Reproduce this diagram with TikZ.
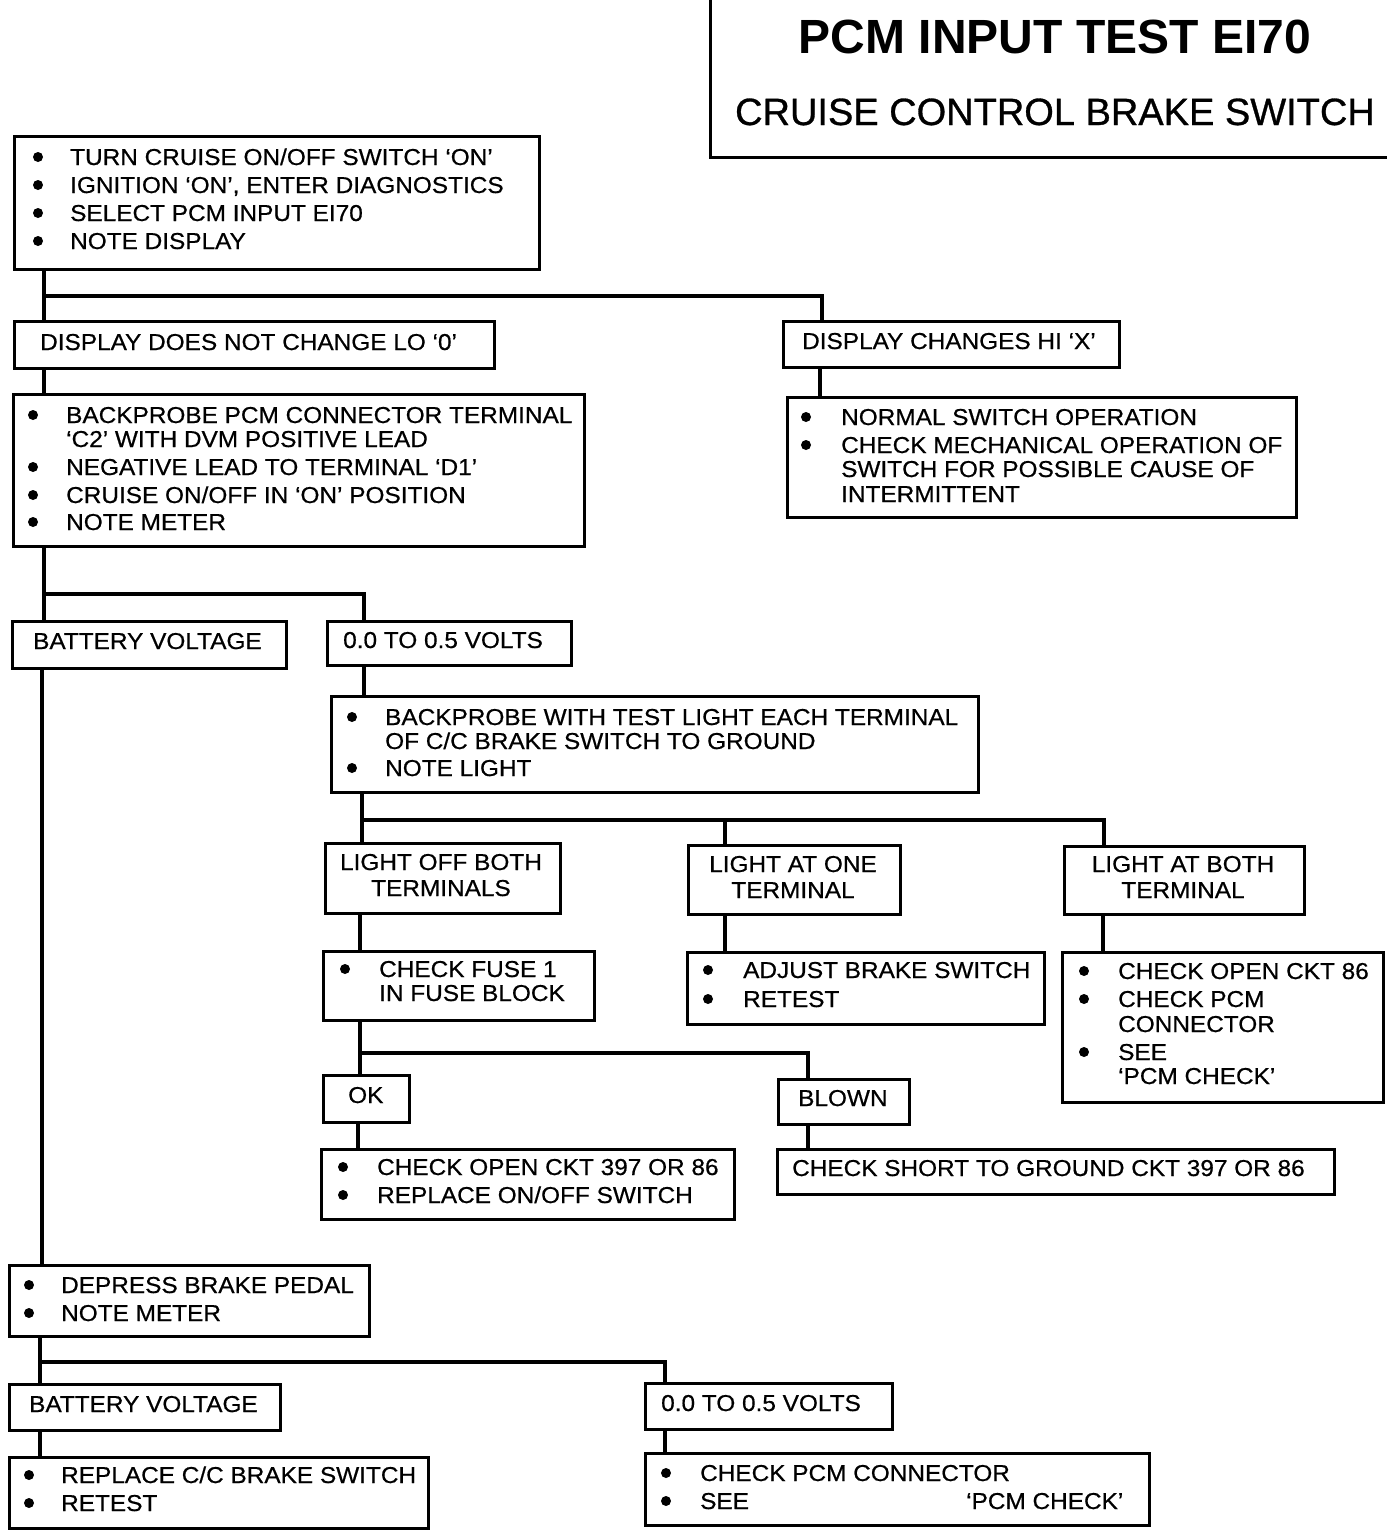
\documentclass[tikz,border=0pt]{standalone}
\usepackage{fontspec}
\newfontfamily\bodyfont{Liberation Sans}[FakeStretch=1.06,FakeBold=0.6]
\newfontfamily\headfont{Liberation Sans}
\newfontfamily\subheadfont{Liberation Sans}[FakeBold=0.8]
\tikzset{
  x=1pt, y=-1pt,
  box/.style={draw, line width=3pt, anchor=north west, inner sep=0pt},
  conn/.style={line width=4.5pt, line cap=rect},
  txt/.style={anchor=base west, inner sep=0pt, font=\bodyfont\fontsize{23}{28}\selectfont},
  ctxt/.style={anchor=base, inner sep=0pt, font=\bodyfont\fontsize{23}{28}\selectfont},
  dot/.style={circle, fill, inner sep=0pt, minimum size=10pt},
}
\newcommand{\bx}[5]{\node[box, minimum width=#4-#2, minimum height=#5-#3] (#1) at (#2,#3) {};}
\begin{document}
\begin{tikzpicture}
\useasboundingbox (0,0) rectangle (1392,1532);
% title
\draw[line width=3pt] (710,0) -- (710,157) -- (1387,157);
\node[anchor=base, inner sep=0pt, font=\headfont\bfseries\fontsize{48}{56}\selectfont] (t1) at (1055,53) {PCM INPUT TEST EI70};
\node[anchor=base, inner sep=0pt, font=\subheadfont\fontsize{38}{44}\selectfont] (t2) at (1055,125) {CRUISE CONTROL BRAKE SWITCH};

% boxes
\bx{b1}{13}{135}{538}{268}
\bx{b2}{13}{320}{493}{367}
\bx{b3}{782}{320}{1118}{366}
\bx{b4}{786}{396}{1295}{516}
\bx{b5}{12}{393}{583}{545}
\bx{b6}{11}{620}{285}{667}
\bx{b7}{326}{620}{570}{664}
\bx{b8}{330}{695}{977}{791}
\bx{b9}{324}{842}{559}{912}
\bx{b10}{687}{844}{899}{913}
\bx{b11}{1063}{845}{1303}{913}
\bx{b12}{322}{950}{593}{1019}
\bx{b13}{686}{951}{1043}{1023}
\bx{b14}{1061}{951}{1382}{1101}
\bx{b15}{322}{1074}{408}{1121}
\bx{b16}{777}{1078}{908}{1123}
\bx{b17}{320}{1148}{733}{1218}
\bx{b18}{776}{1148}{1333}{1193}
\bx{b19}{8}{1264}{368}{1335}
\bx{b20}{8}{1383}{279}{1429}
\bx{b21}{644}{1382}{891}{1428}
\bx{b22}{8}{1456}{427}{1527}
\bx{b23}{644}{1452}{1148}{1524}

% connectors
\draw[conn] ([xshift=31pt]b1.south west) -- ([xshift=31pt]b2.north west);
\draw[conn] ([xshift=31pt]b1.south west) ++(0,25) -| ([xshift=40pt]b3.north west);
\draw[conn] ([xshift=38pt]b3.south west) -- ([xshift=38pt]b3.south west |- b4.north);
\draw[conn] ([xshift=31pt]b2.south west) -- ([xshift=31pt]b2.south west |- b5.north);
\draw[conn] ([xshift=32pt]b5.south west) -- ([xshift=32pt]b5.south west |- b6.north);
\draw[conn] ([xshift=32pt]b5.south west) ++(0,46) -| ([xshift=38pt]b7.north west);
\draw[conn] ([xshift=38pt]b7.south west) -- ([xshift=38pt]b7.south west |- b8.north);
\draw[conn] ([xshift=32pt]b8.south west) -- ([xshift=32pt]b8.south west |- b9.north);
\draw[conn] ([xshift=32pt]b8.south west) ++(0,26) -| ([xshift=41pt]b11.north west);
\draw[conn] ([xshift=32pt]b8.south west) ++(0,26) -| ([xshift=38pt]b10.north west);
\draw[conn] ([xshift=36pt]b9.south west) -- ([xshift=36pt]b9.south west |- b12.north);
\draw[conn] ([xshift=38pt]b10.south west) -- ([xshift=38pt]b10.south west |- b13.north);
\draw[conn] ([xshift=40pt]b11.south west) -- ([xshift=40pt]b11.south west |- b14.north);
\draw[conn] ([xshift=38pt]b12.south west) -- ([xshift=38pt]b12.south west |- b15.north);
\draw[conn] ([xshift=38pt]b12.south west) ++(0,31) -| ([xshift=31pt]b16.north west);
\draw[conn] ([xshift=36pt]b15.south west) -- ([xshift=36pt]b15.south west |- b17.north);
\draw[conn] ([xshift=31pt]b16.south west) -- ([xshift=31pt]b16.south west |- b18.north);
\draw[conn] ([xshift=31pt]b6.south west) -- ([xshift=31pt]b6.south west |- b19.north);
\draw[conn] ([xshift=32pt]b19.south west) -- ([xshift=32pt]b19.south west |- b20.north);
\draw[conn] ([xshift=32pt]b19.south west) ++(0,24) -| ([xshift=21pt]b21.north west);
\draw[conn] ([xshift=32pt]b20.south west) -- ([xshift=32pt]b20.south west |- b22.north);
\draw[conn] ([xshift=21pt]b21.south west) -- ([xshift=21pt]b21.south west |- b23.north);

% box 1
\node[dot] (d1a) at (38,157) {}; \node[txt] (x1a) at (70,165) {TURN CRUISE ON/OFF SWITCH ‘ON’};
\node[dot] (d1b) at (38,185) {}; \node[txt] (x1b) at (70,193) {IGNITION ‘ON’, ENTER DIAGNOSTICS};
\node[dot] (d1c) at (38,213) {}; \node[txt] (x1c) at (70,221) {SELECT PCM INPUT EI70};
\node[dot] (d1d) at (38,241) {}; \node[txt] (x1d) at (70,249) {NOTE DISPLAY};
% box 2, 3
\node[txt] (x2) at (40,350) {DISPLAY DOES NOT CHANGE LO ‘0’};
\node[txt] (x3) at (802,349) {DISPLAY CHANGES HI ‘X’};
% box 4
\node[dot] (d4a) at (806,417) {}; \node[txt] (x4a) at (841,425) {NORMAL SWITCH OPERATION};
\node[dot] (d4b) at (806,445) {}; \node[txt] (x4b) at (841,453) {CHECK MECHANICAL OPERATION OF};
\node[txt] (x4c) at (841,477) {SWITCH FOR POSSIBLE CAUSE OF};
\node[txt] (x4d) at (841,502) {INTERMITTENT};
% box 5
\node[dot] (d5a) at (33,415) {}; \node[txt] (x5a) at (66,423) {BACKPROBE PCM CONNECTOR TERMINAL};
\node[txt] (x5b) at (66,447) {‘C2’ WITH DVM POSITIVE LEAD};
\node[dot] (d5c) at (33,467) {}; \node[txt] (x5c) at (66,475) {NEGATIVE LEAD TO TERMINAL ‘D1’};
\node[dot] (d5d) at (33,495) {}; \node[txt] (x5d) at (66,503) {CRUISE ON/OFF IN ‘ON’ POSITION};
\node[dot] (d5e) at (33,522) {}; \node[txt] (x5e) at (66,530) {NOTE METER};
% box 6, 7
\node[txt] (x6) at (33,649) {BATTERY VOLTAGE};
\node[txt] (x7) at (343,648) {0.0 TO 0.5 VOLTS};
% box 8
\node[dot] (d8a) at (352,717) {}; \node[txt] (x8a) at (385,725) {BACKPROBE WITH TEST LIGHT EACH TERMINAL};
\node[txt] (x8b) at (385,749) {OF C/C BRAKE SWITCH TO GROUND};
\node[dot] (d8c) at (352,768) {}; \node[txt] (x8c) at (385,776) {NOTE LIGHT};
% box 9, 10, 11
\node[ctxt] (x9a) at (441,870) {LIGHT OFF BOTH};
\node[ctxt] (x9b) at (441,896) {TERMINALS};
\node[ctxt] (x10a) at (793,872) {LIGHT AT ONE};
\node[ctxt] (x10b) at (793,898) {TERMINAL};
\node[ctxt] (x11a) at (1183,872) {LIGHT AT BOTH};
\node[ctxt] (x11b) at (1183,898) {TERMINAL};
% box 12
\node[dot] (d12a) at (345,969) {}; \node[txt] (x12a) at (379,977) {CHECK FUSE 1};
\node[txt] (x12b) at (379,1001) {IN FUSE BLOCK};
% box 13
\node[dot] (d13a) at (708,970) {}; \node[txt] (x13a) at (743,978) {ADJUST BRAKE SWITCH};
\node[dot] (d13b) at (708,999) {}; \node[txt] (x13b) at (743,1007) {RETEST};
% box 14
\node[dot] (d14a) at (1084,971) {}; \node[txt] (x14a) at (1118,979) {CHECK OPEN CKT 86};
\node[dot] (d14b) at (1084,999) {}; \node[txt] (x14b) at (1118,1007) {CHECK PCM};
\node[txt] (x14c) at (1118,1032) {CONNECTOR};
\node[dot] (d14d) at (1084,1052) {}; \node[txt] (x14d) at (1118,1060) {SEE};
\node[txt] (x14e) at (1118,1084) {‘PCM CHECK’};
% box 15, 16
\node[txt] (x15) at (348,1103) {OK};
\node[txt] (x16) at (798,1106) {BLOWN};
% box 17
\node[dot] (d17a) at (343,1167) {}; \node[txt] (x17a) at (377,1175) {CHECK OPEN CKT 397 OR 86};
\node[dot] (d17b) at (343,1195) {}; \node[txt] (x17b) at (377,1203) {REPLACE ON/OFF SWITCH};
% box 18
\node[txt] (x18) at (792,1176) {CHECK SHORT TO GROUND CKT 397 OR 86};
% box 19
\node[dot] (d19a) at (29,1285) {}; \node[txt] (x19a) at (61,1293) {DEPRESS BRAKE PEDAL};
\node[dot] (d19b) at (29,1313) {}; \node[txt] (x19b) at (61,1321) {NOTE METER};
% box 20, 21
\node[txt] (x20) at (29,1412) {BATTERY VOLTAGE};
\node[txt] (x21) at (661,1411) {0.0 TO 0.5 VOLTS};
% box 22
\node[dot] (d22a) at (29,1475) {}; \node[txt] (x22a) at (61,1483) {REPLACE C/C BRAKE SWITCH};
\node[dot] (d22b) at (29,1503) {}; \node[txt] (x22b) at (61,1511) {RETEST};
% box 23
\node[dot] (d23a) at (666,1473) {}; \node[txt] (x23a) at (700,1481) {CHECK PCM CONNECTOR};
\node[dot] (d23b) at (666,1501) {}; \node[txt] (x23b) at (700,1509) {SEE};
\node[txt] (x23c) at (966,1509) {‘PCM CHECK’};
\end{tikzpicture}
\end{document}
